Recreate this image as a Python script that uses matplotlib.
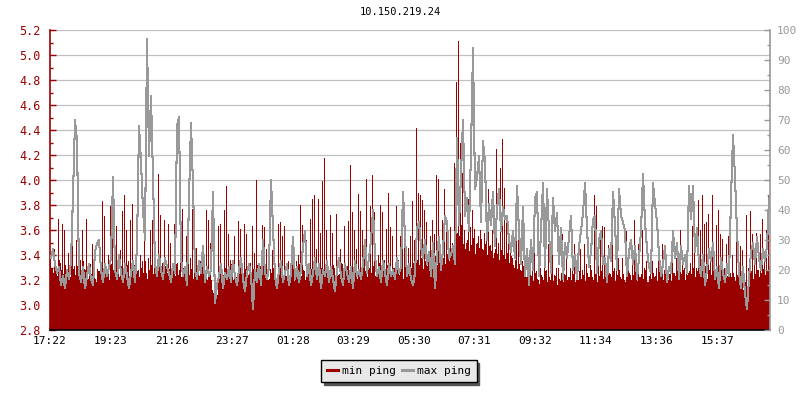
import numpy as np
import matplotlib
matplotlib.use("Agg")
import matplotlib.pyplot as plt
from matplotlib.ticker import MultipleLocator
from matplotlib.lines import Line2D

title = "10.150.219.24"
tick_labels = ["17:22", "19:23", "21:26", "23:27", "01:28", "03:29",
               "05:30", "07:31", "09:32", "11:34", "13:36", "15:37"]
tick_minutes = [0, 121, 244, 365, 486, 607, 728, 849, 970, 1092, 1214, 1335]
min_step_minutes = 2
max_step_minutes = 4

# min ping (left axis), one sample every 2 minutes
min_ping = [
    3.38,3.30, 3.30,3.26, 3.45,3.33, 3.26,3.23, 3.69,3.36, 3.34,3.28, 3.65,3.25, 3.60,3.32, 3.28,3.27, 3.42,3.22, 3.22,3.34, 3.55,3.29, 3.31,3.24, 3.52,3.31, 3.24,3.26, 3.36,3.20, 3.60,3.35, 3.29,3.28, 3.69,3.23, 3.21,3.30,
    3.33,3.25, 3.49,3.32, 3.45,3.21, 3.18,3.29, 3.27,3.27, 3.38,3.34, 3.83,3.23, 3.71,3.30, 3.25,3.26, 3.40,3.20, 3.79,3.33, 3.99,3.28, 3.68,3.24, 3.63,3.36, 3.30,3.22, 3.44,3.31, 3.75,3.27, 3.88,3.25, 3.60,3.32, 3.35,3.23,
    3.68,3.29, 3.81,3.24, 3.32,3.33, 3.49,3.27, 3.28,3.22, 3.40,3.30, 3.35,3.26, 3.51,3.35, 3.26,3.21, 3.38,3.28, 3.60,3.32, 3.68,3.25, 3.47,3.30, 3.30,3.23, 4.05,3.34, 3.72,3.27, 3.34,3.20, 3.68,3.31, 3.29,3.26, 3.65,3.29,
    3.50,3.26, 3.27,3.31, 3.65,3.23, 3.33,3.34, 3.24,3.28, 3.65,3.22, 3.77,3.30, 3.30,3.27, 3.55,3.33, 3.96,3.24, 3.38,3.29, 3.77,3.21, 3.60,3.32, 3.46,3.26, 3.28,3.23, 3.35,3.30, 3.45,3.25, 3.22,3.28, 3.76,3.20, 3.68,3.27,
    3.50,3.20, 3.12,3.10, 3.14,3.12, 3.10,3.08, 3.63,3.21, 3.65,3.28, 3.25,3.24, 3.76,3.30, 3.95,3.22, 3.57,3.27, 3.36,3.33, 3.30,3.20, 3.55,3.26, 3.22,3.23, 3.67,3.31, 3.61,3.25, 3.28,3.21, 3.65,3.29, 3.57,3.24, 3.24,3.27,
    3.34,3.22, 3.63,3.29, 3.42,3.25, 4.00,3.32, 3.26,3.20, 3.31,3.27, 3.64,3.31, 3.62,3.23, 3.45,3.28, 3.20,3.21, 3.29,3.26, 3.44,3.30, 3.25,3.19, 3.18,3.24, 3.65,3.32, 3.66,3.27, 3.55,3.22, 3.63,3.29, 3.23,3.25, 3.35,3.21,
    3.21,3.24, 3.37,3.30, 3.19,3.21, 3.35,3.26, 3.40,3.33, 3.80,3.23, 3.64,3.28, 3.27,3.20, 3.52,3.31, 3.31,3.25, 3.69,3.29, 3.85,3.22, 3.88,3.34, 3.45,3.27, 3.85,3.24, 3.58,3.30, 3.99,3.26, 4.18,3.32, 3.60,3.23, 3.26,3.28,
    3.72,3.27, 3.58,3.32, 3.30,3.22, 3.73,3.29, 3.24,3.25, 3.45,3.34, 3.33,3.20, 3.63,3.28, 3.28,3.31, 3.67,3.23, 4.12,3.30, 3.74,3.26, 3.60,3.33, 3.45,3.21, 3.89,3.28, 3.75,3.24, 3.60,3.32, 3.50,3.27, 4.01,3.22, 3.31,3.30,
    3.79,3.26, 4.04,3.31, 3.74,3.23, 3.32,3.28, 3.40,3.34, 3.80,3.21, 3.74,3.29, 3.36,3.25, 3.61,3.32, 3.90,3.27, 3.62,3.22, 3.55,3.30, 3.30,3.26, 3.79,3.33, 3.36,3.24, 3.55,3.29, 3.70,3.21, 3.50,3.32, 3.28,3.28, 3.46,3.25,
    3.55,3.30, 3.83,3.34, 3.52,3.27, 4.42,3.36, 3.90,3.32, 3.88,3.38, 3.84,3.29, 3.76,3.35, 3.66,3.31, 3.40,3.37, 3.55,3.28, 3.68,3.34, 3.57,3.39, 4.04,3.32, 4.01,3.36, 3.45,3.30, 3.68,3.38, 3.93,3.33, 3.60,3.41, 3.38,3.35,
    3.62,3.42, 3.50,3.47, 4.14,3.51, 4.78,3.58, 5.11,3.55, 4.30,3.64, 4.06,3.49, 3.60,3.45, 3.50,3.52, 3.85,3.43, 3.62,3.48, 3.76,3.54, 3.61,3.41, 3.49,3.50, 3.55,3.46, 3.60,3.53, 3.45,3.44, 3.58,3.49, 3.55,3.40, 3.93,3.47,
    3.48,3.43, 3.60,3.38, 3.42,3.45, 4.25,3.41, 3.50,3.36, 4.10,3.44, 4.33,3.40, 3.94,3.37, 3.70,3.42, 3.60,3.34, 3.47,3.39, 3.38,3.32, 3.30,3.36, 3.80,3.29, 3.65,3.33, 3.28,3.27, 3.35,3.31, 3.47,3.25, 3.22,3.28, 3.30,3.23,
    3.25,3.23, 3.35,3.19, 3.44,3.26, 3.27,3.21, 3.20,3.17, 3.30,3.24, 3.22,3.20, 3.35,3.27, 3.28,3.18, 3.49,3.22, 3.20,3.25, 3.46,3.19, 3.24,3.23, 3.30,3.16, 3.30,3.21, 3.19,3.26, 3.57,3.18, 3.25,3.24, 3.38,3.20, 3.22,3.22,
    3.30,3.20, 3.48,3.25, 3.49,3.18, 3.24,3.23, 3.20,3.27, 3.45,3.21, 3.28,3.24, 3.49,3.19, 3.33,3.26, 3.22,3.22, 3.32,3.28, 3.22,3.20, 3.88,3.25, 3.79,3.18, 3.35,3.23, 3.60,3.27, 3.63,3.21, 3.62,3.24, 3.28,3.19, 3.48,3.26,
    3.25,3.22, 3.57,3.27, 3.30,3.19, 3.48,3.24, 3.38,3.28, 3.22,3.21, 3.38,3.25, 3.20,3.18, 3.59,3.23, 3.30,3.26, 3.24,3.20, 3.34,3.24, 3.68,3.27, 3.26,3.19, 3.49,3.22, 3.22,3.25, 3.60,3.21, 3.30,3.28, 3.35,3.18, 3.18,3.23,
    3.26,3.21, 3.35,3.26, 3.22,3.23, 3.30,3.19, 3.53,3.27, 3.24,3.24, 3.49,3.20, 3.28,3.28, 3.41,3.22, 3.20,3.25, 3.32,3.19, 3.45,3.26, 3.26,3.23, 3.38,3.29, 3.22,3.21, 3.60,3.25, 3.38,3.28, 3.30,3.20, 3.42,3.24, 3.26,3.27,
    3.34,3.25, 3.63,3.30, 3.69,3.22, 3.30,3.27, 3.84,3.29, 3.60,3.23, 3.88,3.26, 3.65,3.31, 3.66,3.21, 3.73,3.28, 3.35,3.24, 3.88,3.30, 3.42,3.22, 3.64,3.27, 3.76,3.25, 3.57,3.29, 3.53,3.20, 3.30,3.26, 3.49,3.23, 3.55,3.28,
    3.26,3.22, 3.40,3.26, 3.22,3.19, 3.75,3.24, 3.33,3.16, 3.47,3.20, 3.44,3.12, 3.24,3.18, 3.72,3.08, 3.30,3.22, 3.75,3.27, 3.57,3.21, 3.35,3.25, 3.58,3.28, 3.28,3.22, 3.57,3.26, 3.69,3.29, 3.40,3.24, 3.60,3.27, 3.88,3.31,
]

# max ping (right axis), one sample every 4 minutes
max_ping = [
    24, 27, 22, 19, 21, 15, 18, 14, 20, 17, 23, 45, 70, 63, 19, 16, 21, 14, 18, 22,
    17, 15, 26, 29, 30, 20, 16, 22, 18, 21, 24, 51, 20, 17, 25, 19, 16, 22, 18, 14,
    19, 23, 16, 28, 68, 56, 40, 30, 97, 58, 78, 51, 22, 18, 25, 20, 17, 24, 21, 19,
    16, 22, 19, 68, 71, 24, 18, 21, 15, 44, 69, 48, 20, 17, 23, 19, 28, 16, 21, 18,
    20, 46, 9, 15, 18, 22, 14, 19, 17, 21, 16, 23, 18, 15, 20, 24, 17, 13, 19, 22,
    18, 7, 20, 16, 22, 15, 30, 19, 17, 21, 50, 34, 18, 14, 20, 23, 16, 19, 22, 15,
    19, 31, 17, 21, 16, 20, 28, 33, 18, 22, 15, 19, 24, 17, 22, 14, 20, 18, 23, 16,
    21, 17, 13, 20, 24, 18, 15, 22, 19, 16, 21, 14, 23, 18, 20, 17, 22, 30, 19, 24,
    30, 40, 25, 18, 21, 16, 23, 19, 15, 22, 18, 20, 17, 24, 19, 21, 46, 31, 18, 22,
    17, 15, 19, 34, 36, 28, 24, 30, 22, 26, 18, 29, 14, 25, 31, 20, 27, 38, 36, 24,
    25, 28, 22, 64, 35, 52, 70, 38, 44, 33, 60, 94, 47, 51, 58, 36, 63, 56, 30, 42,
    35, 46, 28, 40, 47, 33, 41, 37, 38, 30, 26, 33, 24, 48, 33, 22, 41, 18, 27, 15,
    30, 20, 44, 46, 18, 33, 49, 21, 47, 33, 19, 44, 33, 39, 22, 34, 17, 29, 24, 31,
    38, 20, 25, 17, 28, 33, 39, 49, 34, 21, 26, 37, 38, 19, 30, 33, 22, 24, 16, 27,
    23, 46, 35, 20, 47, 38, 36, 33, 18, 26, 30, 22, 28, 17, 24, 33, 52, 36, 27, 21,
    19, 49, 42, 36, 25, 18, 22, 28, 16, 21, 19, 33, 24, 29, 17, 28, 22, 25, 19, 48,
    37, 48, 26, 34, 22, 18, 25, 15, 20, 27, 23, 29, 17, 21, 14, 24, 19, 16, 22, 18,
    44, 65, 51, 33, 19, 14, 21, 12, 7, 17, 26, 29, 22, 31, 24, 20, 27, 23, 28, 44,
]

RED = "#990000"
GRAY = "#999999"
FONT = "DejaVu Sans Mono"
plt.rcParams["font.family"] = FONT
plt.rcParams["font.size"] = 7.2

n_min = len(min_ping)
n_max = len(max_ping)
t_min = np.arange(n_min) * min_step_minutes
mn = np.array(min_ping, dtype=float)
t_max = np.arange(n_max) * max_step_minutes + max_step_minutes / 2
mx = np.array(max_ping, dtype=float)

fig = plt.figure(figsize=(8, 4), dpi=100)
ax = fig.add_axes([0.0625, 0.175, 0.9, 0.75])
ax2 = ax.twinx()

ax.bar(t_min, mn - 2.8, bottom=2.8, width=min_step_minutes, align="edge",
       color=RED, linewidth=0, antialiased=False, zorder=2)
ax2.plot(t_max, mx, color=GRAY, linewidth=0.75, zorder=3, antialiased=False)

ax.set_xlim(0, 1440)
ax.set_ylim(2.8, 5.2)
ax2.set_ylim(0, 100)

ax.yaxis.set_minor_locator(MultipleLocator(0.1))
yt = np.round(np.arange(2.8, 5.21, 0.2), 1)
ax.set_yticks(yt)
ax.set_yticklabels([f"{v:.1f}" for v in yt])
ax2.yaxis.set_major_locator(MultipleLocator(10))
ax2.yaxis.set_minor_locator(MultipleLocator(5))

ax.set_xticks(tick_minutes)
ax.set_xticklabels(tick_labels)

ax.grid(axis="y", which="major", color="#c0c0c0", linewidth=0.9, zorder=0)
ax.set_axisbelow(True)

for a in (ax, ax2):
    a.spines["top"].set_visible(False)
ax.spines["left"].set_color(RED)
ax.spines["right"].set_visible(False)
ax2.spines["left"].set_visible(False)
ax2.spines["right"].set_color(GRAY)
ax.spines["bottom"].set_color("black")
ax2.spines["bottom"].set_visible(False)
for s in ("left", "bottom"):
    ax.spines[s].set_linewidth(1.2)
ax2.spines["right"].set_linewidth(1.2)

ax.tick_params(axis="y", which="major", direction="in", length=4, width=1, colors=RED,
               labelcolor=RED, pad=7, labelsize=8.5)
ax.tick_params(axis="y", which="minor", direction="in", length=2.5, width=1, colors=RED)
ax.tick_params(axis="x", direction="in", length=4, width=1, colors="black", pad=4, labelsize=8)
ax2.tick_params(axis="y", which="major", direction="in", length=4, width=1, colors=GRAY,
                labelcolor=GRAY, pad=5, labelsize=8)
ax2.tick_params(axis="y", which="minor", direction="in", length=2.5, width=1, colors=GRAY)

fig.text(0.5, 0.97, title, ha="center", va="center", fontsize=7.5, color="black")

handles = [Line2D([], [], color=RED, linewidth=2.2), Line2D([], [], color=GRAY, linewidth=2.2)]
leg = fig.legend(handles, ["min ping", "max ping"], loc="center", bbox_to_anchor=(0.4985, 0.0725),
                 ncol=2, frameon=True, fancybox=False, shadow={"color": "#555555", "alpha": 1},
                 facecolor="#e8e8e8", edgecolor="black", framealpha=1, handlelength=1.0,
                 handletextpad=0.35, columnspacing=0.5, borderpad=0.55, fontsize=8)
leg.get_frame().set_linewidth(1.0)

fig.savefig("out.png", dpi=100)
